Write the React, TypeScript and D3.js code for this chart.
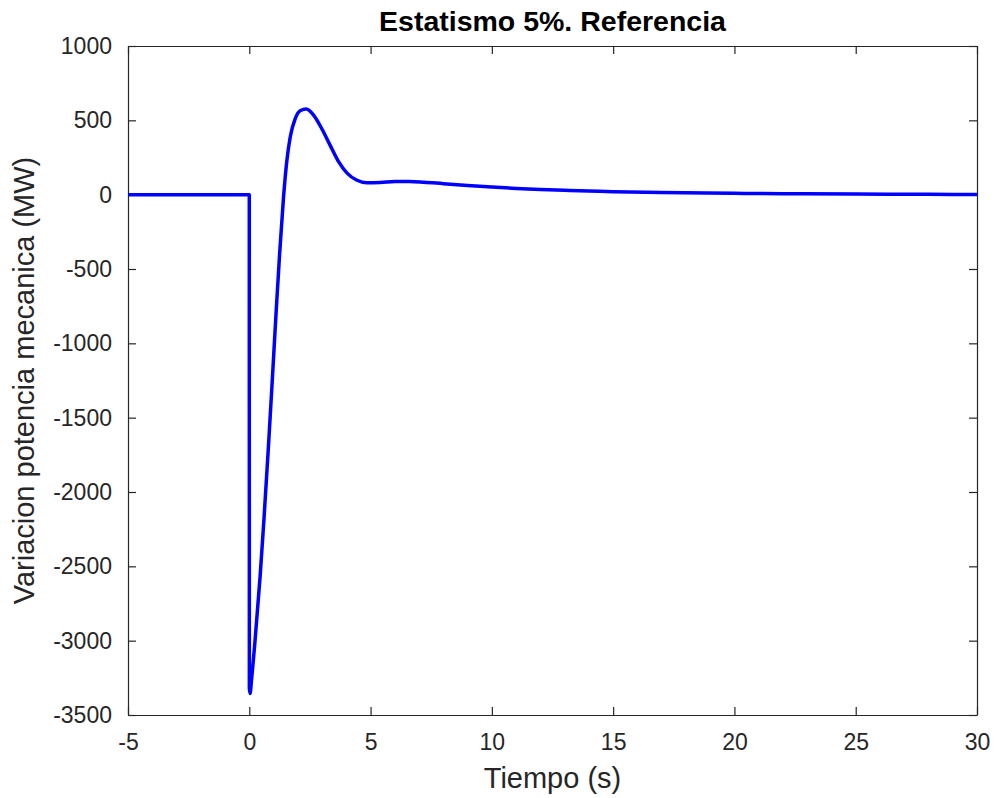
import { axisBottom, axisLeft, axisRight, axisTop, curveMonotoneX, line, scaleLinear, select } from 'd3';
import { useEffect, useRef } from 'react';

const WIDTH = 995;
const HEIGHT = 798;
const MARGIN = { top: 46, right: 18, bottom: 83, left: 128 };

const X_TICKS = [-5, 0, 5, 10, 15, 20, 25, 30];
const Y_TICKS = [-3500, -3000, -2500, -2000, -1500, -1000, -500, 0, 500, 1000];

// time (s) and mechanical power deviation (MW)
const TIME = [
  -5, 0, 0.003, 0.03, 0.1, 0.24, 0.45, 0.61, 0.78, 0.93, 1.11, 1.25, 1.41, 1.55, 1.69, 1.89, 2.1,
  2.35, 2.65, 3.0, 3.34, 3.68, 4.03, 4.44, 4.85, 5.4, 6.0, 6.6, 7.2, 8, 9, 10, 11, 12, 13, 14, 15,
  17, 20, 22, 25, 28, 30,
];
const POWER = [
  0, 0, -3320, -3355, -3250, -2995, -2560, -2170, -1720, -1300, -780, -400, -20, 230, 390, 510,
  565, 576, 535, 440, 330, 222, 145, 97, 80, 82, 88, 89, 84, 74, 62, 51, 42, 35, 29, 24, 20, 14, 9,
  7, 4, 2, 1,
];

const AXIS_COLOR = '#262626';
const FONT = 'Arial, "Liberation Sans", Helvetica, sans-serif';

export default function App() {
  const svgRef = useRef<SVGSVGElement | null>(null);

  useEffect(() => {
    document.body.style.margin = '0';
    const svg = select(svgRef.current);
    svg.selectAll('*').remove();

    const innerW = WIDTH - MARGIN.left - MARGIN.right;
    const innerH = HEIGHT - MARGIN.top - MARGIN.bottom;

    const x = scaleLinear().domain([-5, 30]).range([MARGIN.left, MARGIN.left + innerW]);
    const y = scaleLinear().domain([-3500, 1000]).range([MARGIN.top + innerH, MARGIN.top]);
    const fmt = (d: any) => String(d);

    const styleAxis = (g: any, labels: boolean) => {
      g.select('.domain').attr('stroke', AXIS_COLOR).attr('stroke-width', 1.2);
      g.selectAll('.tick line').attr('stroke', AXIS_COLOR).attr('stroke-width', 1.2);
      g.selectAll('.tick text')
        .attr('fill', AXIS_COLOR)
        .attr('font-family', FONT)
        .attr('font-size', 23);
      if (!labels) g.selectAll('.tick text').remove();
    };

    svg
      .append('g')
      .attr('transform', `translate(0,${MARGIN.top + innerH})`)
      .call(axisBottom(x).tickValues(X_TICKS).tickFormat(fmt).tickSize(-8).tickSizeOuter(0).tickPadding(19))
      .call((g: any) => styleAxis(g, true));

    svg
      .append('g')
      .attr('transform', `translate(0,${MARGIN.top})`)
      .call(axisTop(x).tickValues(X_TICKS).tickSize(-8).tickSizeOuter(0))
      .call((g: any) => styleAxis(g, false));

    svg
      .append('g')
      .attr('transform', `translate(${MARGIN.left},0)`)
      .call(axisLeft(y).tickValues(Y_TICKS).tickFormat(fmt).tickSize(-8).tickSizeOuter(0).tickPadding(16))
      .call((g: any) => styleAxis(g, true));

    svg
      .append('g')
      .attr('transform', `translate(${MARGIN.left + innerW},0)`)
      .call(axisRight(y).tickValues(Y_TICKS).tickSize(-8).tickSizeOuter(0))
      .call((g: any) => styleAxis(g, false));

    const points = TIME.map((t, i) => [t, POWER[i]] as [number, number]);
    const path = line<[number, number]>()
      .x((d) => x(d[0]))
      .y((d) => y(d[1]))
      .curve(curveMonotoneX);

    svg
      .append('path')
      .datum(points)
      .attr('d', path)
      .attr('fill', 'none')
      .attr('stroke', '#0000ff')
      .attr('stroke-width', 3.5)
      .attr('stroke-linejoin', 'round');

    svg
      .append('text')
      .attr('x', MARGIN.left + innerW / 2)
      .attr('y', 31)
      .attr('text-anchor', 'middle')
      .attr('font-family', FONT)
      .attr('font-weight', 'bold')
      .attr('font-size', 28.5)
      .attr('fill', '#000')
      .text('Estatismo 5%. Referencia');

    svg
      .append('text')
      .attr('x', MARGIN.left + innerW / 2)
      .attr('y', 788)
      .attr('text-anchor', 'middle')
      .attr('font-family', FONT)
      .attr('font-size', 29)
      .attr('fill', AXIS_COLOR)
      .text('Tiempo (s)');

    svg
      .append('text')
      .attr('transform', `translate(34,${MARGIN.top + innerH / 2}) rotate(-90)`)
      .attr('text-anchor', 'middle')
      .attr('font-family', FONT)
      .attr('font-size', 29)
      .attr('fill', AXIS_COLOR)
      .text('Variacion potencia mecanica (MW)');
  }, []);

  return (
    <svg
      ref={svgRef}
      width={WIDTH}
      height={HEIGHT}
      style={{ display: 'block', background: '#fff' }}
    />
  );
}
